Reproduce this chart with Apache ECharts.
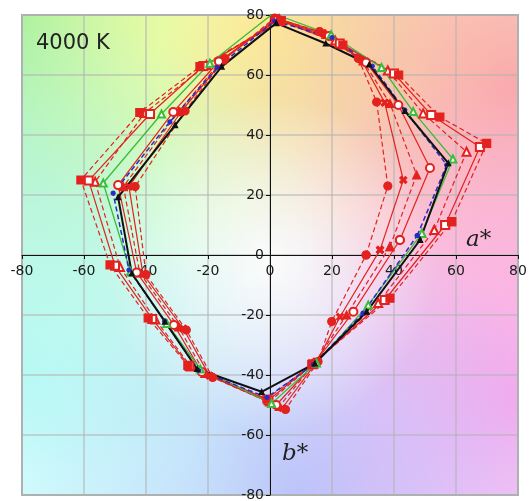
<!DOCTYPE html>
<html>
<head>
<meta charset="utf-8">
<script src="https://cdn.jsdelivr.net/npm/echarts@6/dist/echarts.min.js"></script>
<style>
  html, body { margin: 0; padding: 0; background: #fff; }
  #chart { width: 532px; height: 501px; }
</style>
</head>
<body>
<div id="chart"></div>
<script>
// axis range (a* and b*)
var axisMin = -80
var axisMax = 80
var axisStep = 20

// gamut polygons, [a*, b*] per hue bin
var red1 = [[31, 0], [38, 23], [34.4, 51], [28.5, 65.5], [16, 74.5], [1.5, 79], [-14.5, 65.5], [-27.4, 48], [-43.5, 22.8], [-40, -6.5], [-27, -25], [-18.5, -40.8], [5, -51.5], [15.5, -35.5], [19.9, -22.2]]
var red2 = [[35.5, 1.7], [43, 25], [37, 50.8], [29.5, 65], [17, 74], [2, 79], [-15, 65], [-28.5, 48], [-45.5, 22.8], [-41, -6.3], [-28, -24.5], [-19.5, -40.2], [4, -51], [15, -35.7], [22.6, -20.6]]
var red3 = [[38.7, 2.8], [47.3, 26.7], [38.7, 50.5], [30, 64.7], [18, 73.5], [2, 78.5], [-15.5, 65], [-29.5, 47.8], [-47.3, 22.8], [-42, -6], [-29.5, -24], [-21, -39.5], [3, -50.5], [14.5, -35.8], [24.7, -20]]
var red4 = [[41.9, 5], [51.6, 29], [41.4, 50], [31, 64.2], [19, 73], [2.5, 78.5], [-16.5, 64.5], [-31.2, 47.7], [-49, 23.3], [-43, -5.8], [-31, -23.3], [-22, -39], [2, -50], [14.5, -36], [26.9, -18.9]]
var red5 = [[53, 8.3], [63.4, 34.4], [49.4, 47.2], [38, 61.5], [21, 71.5], [3, 78.5], [-20.5, 63.3], [-40.5, 47.3], [-56.4, 24.4], [-48.4, -4], [-37, -21.5], [-25.5, -37.2], [0, -48.8], [14, -36.2], [34.9, -16]]
var red6 = [[56.5, 10], [67.7, 36], [52, 46.7], [40, 60.5], [22.5, 70.5], [3.5, 78], [-21.5, 63], [-38.7, 47], [-58.5, 24.8], [-50, -3.6], [-38, -21.3], [-26, -37], [-0.5, -48.4], [13.8, -36.4], [37, -15]]
var red7 = [[58.6, 11.1], [69.9, 37.2], [54.8, 46], [41.5, 60], [23.5, 70], [3.5, 78], [-22.6, 62.8], [-42, 47.5], [-61, 25], [-51.6, -3.3], [-39.3, -21], [-26.5, -36.8], [-1, -48], [13.5, -36.5], [38.7, -14.4]]
var green = [[49, 7.2], [59, 32], [46.2, 47.8], [36, 62.5], [19.7, 73.4], [1, 80.5], [-19.4, 63.9], [-35, 47], [-53.8, 24], [-45, -5.6], [-33.3, -22.8], [-22.5, -38], [0.5, -49.5], [15, -36], [31.7, -16.7]]
var blue = [[47.5, 6.5], [57, 30], [43.5, 48.3], [33, 63], [20, 72.5], [1.5, 78], [-17, 62.5], [-32.3, 44.4], [-50.6, 20.6], [-45.5, -5], [-34, -22], [-23, -38.5], [-1, -47.5], [14, -36.5], [30, -19.4]]
var black = [[48.4, 5], [57.5, 30.6], [43.5, 48], [32, 63.5], [18, 70.5], [2, 77.3], [-15.6, 62.8], [-30.6, 43.3], [-49, 19.3], [-44.6, -6.1], [-33.9, -22.2], [-23.5, -38], [-2.7, -45.6], [14.5, -36.1], [31.2, -18.9]]

var cctLabel = "4000 K"

var RED = "#e3221f"
var crossSymbol = "path://M2,0L5,3L8,0L10,2L7,5L10,8L8,10L5,7L2,10L0,8L3,5L0,2Z"

var gridW = 496
var gridH = 480

// close the polygon
function closed(pts) {
  return pts.concat([pts[0]])
}

function gamut(name, pts, color, dashed, symbol, size, width) {
  return {
    name: name,
    type: "line",
    data: closed(pts),
    symbol: symbol,
    symbolSize: size,
    showAllSymbol: true,
    lineStyle: { color: color, width: width, type: dashed ? [5, 3] : "solid" },
    itemStyle: { color: color, borderColor: color, borderWidth: 1.2 },
    emphasis: { disabled: true },
    animation: false
  }
}

// soft colour glow for the a*b* background
function glow(cx, cy, r, rgb, a) {
  return {
    type: "rect",
    z: -10,
    silent: true,
    shape: { x: 22, y: 15, width: gridW, height: gridH },
    style: {
      fill: new echarts.graphic.RadialGradient(cx, cy, r, [
        { offset: 0, color: "rgba(" + rgb + "," + a + ")" },
        { offset: 1, color: "rgba(" + rgb + ",0)" }
      ])
    }
  }
}

var chart = echarts.init(document.getElementById("chart"))

var option = {
  backgroundColor: "#fff",
  animation: false,
  grid: {
    left: 22, top: 15, width: gridW, height: gridH,
    outerBoundsMode: "none",
    show: true, borderColor: "#a9b0b0", borderWidth: 2, backgroundColor: "transparent"
  },
  // axes pulled into the middle so they cross at 0,0
  xAxis: {
    type: "value", min: axisMin, max: axisMax, interval: axisStep,
    position: "bottom", offset: -gridH / 2,
    axisLine: { onZero: false, lineStyle: { color: "#111", width: 1 } },
    axisTick: { show: true, length: 4, lineStyle: { color: "#111" } },
    axisLabel: { color: "#1a1a1a", fontSize: 14, fontFamily: "DejaVu Sans", margin: 9 },
    splitLine: { show: true, lineStyle: { color: "rgba(180,180,180,0.7)", width: 1.5 } }
  },
  yAxis: {
    type: "value", min: axisMin, max: axisMax, interval: axisStep,
    position: "left", offset: -gridW / 2,
    axisLine: { onZero: false, lineStyle: { color: "#111", width: 1 } },
    axisTick: { show: true, length: 4, lineStyle: { color: "#111" } },
    axisLabel: { color: "#1a1a1a", fontSize: 14, fontFamily: "DejaVu Sans", margin: 6 },
    splitLine: { show: true, lineStyle: { color: "rgba(180,180,180,0.7)", width: 1.5 } }
  },
  graphic: [
    glow(0.0, 0.0, 0.95, "150,238,150", 0.9),
    glow(0.5, 0.0, 0.6, "255,255,150", 1),
    glow(1.0, 0.15, 0.75, "248,155,155", 0.85),
    glow(1.0, 0.8, 0.7, "248,150,235", 0.8),
    glow(0.55, 1.0, 0.6, "180,180,250", 0.85),
    glow(0.0, 0.75, 0.75, "165,248,248", 0.75),
    glow(0.5, 0.52, 0.35, "255,255,255", 0.9),
    {
      type: "text", left: 36, top: 33, z: 10,
      style: { text: cctLabel, fill: "#222", font: "21px 'DejaVu Sans'" }
    },
    {
      type: "text", left: 466, top: 229, z: 10,
      style: { text: "a*", fill: "#222", font: "italic 23px 'DejaVu Serif'" }
    },
    {
      type: "text", left: 282, top: 443, z: 10,
      style: { text: "b*", fill: "#222", font: "italic 23px 'DejaVu Serif'" }
    }
  ],
  series: [
    gamut("R1", red1, RED, true, "circle", 8, 1.2),
    gamut("R2", red2, RED, false, crossSymbol, 7, 1.2),
    gamut("R3", red3, RED, true, "triangle", 8, 1.2),
    gamut("R4", red4, RED, false, "emptyCircle", 8, 1.2),
    gamut("R5", red5, RED, true, "emptyTriangle", 8, 1.2),
    gamut("R6", red6, RED, false, "emptyRect", 8, 1.2),
    gamut("R7", red7, RED, true, "rect", 8, 1.2),
    gamut("green", green, "#3dbb3d", false, "emptyTriangle", 7, 1.3),
    gamut("blue", blue, "#2a2ac8", true, "circle", 4, 1.5),
    gamut("black", black, "#111", false, "triangle", 5, 2)
  ]
}

chart.setOption(option)
</script>
</body>
</html>
